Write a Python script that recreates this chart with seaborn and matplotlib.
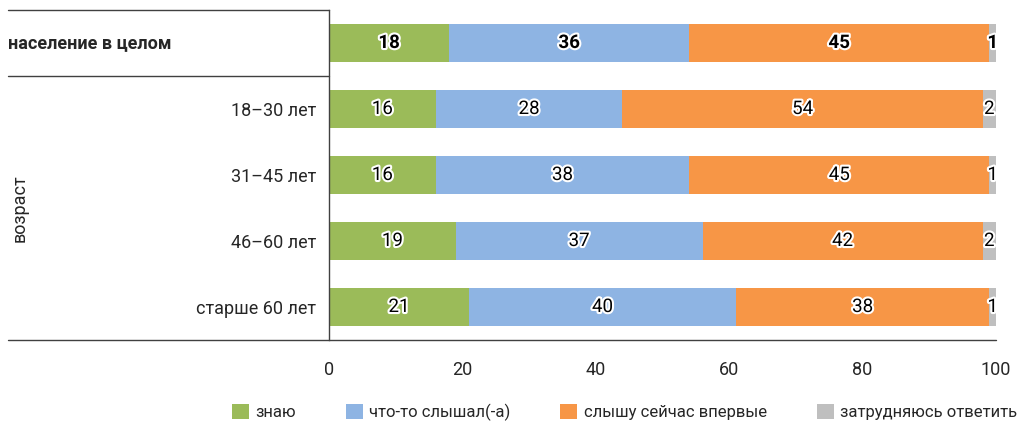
import matplotlib
matplotlib.use("Agg")
import matplotlib.pyplot as plt
import matplotlib.patheffects as pe
from matplotlib.patches import Patch
import seaborn as sns
import pandas as pd
import numpy as np

categories = ["население в целом", "18–30 лет", "31–45 лет", "46–60 лет", "старше 60 лет"]
series_names = ["знаю", "что-то слышал(-а)", "слышу сейчас впервые", "затрудняюсь ответить"]
znayu = [18, 16, 16, 19, 21]
slyshal = [36, 28, 38, 37, 40]
vpervye = [45, 54, 45, 42, 38]
zatrud = [1, 2, 1, 2, 1]
xticks = [0, 20, 40, 60, 80, 100]
group_label = "возраст"

colors = ["#9BBB59", "#8EB4E3", "#F79646", "#BFBFBF"]

sns.set_style("white")
plt.rcParams["font.family"] = ["Roboto", "DejaVu Sans"]

fig = plt.figure(figsize=(10.19, 4.21), dpi=100)
ax = fig.add_axes([329 / 1019, 1 - 340 / 421, 667 / 1019, 330 / 421])

series = [znayu, slyshal, vpervye, zatrud]
cum = np.cumsum(np.array(series), axis=0)

# draw from longest cumulative to shortest so that segments stack visually
for i in range(3, -1, -1):
    df = pd.DataFrame({"cat": categories, "val": cum[i]})
    sns.barplot(data=df, x="val", y="cat", orient="h", color=colors[i],
                saturation=1, width=0.59, ax=ax, linewidth=0, errorbar=None)

ax.set_xlim(0, 100)
ax.set_ylim(4.5, -0.5)
ax.set_xticks(xticks)
ax.set_xticklabels([str(t) for t in xticks], fontsize=13)
ax.set_yticks(range(len(categories)))
ax.set_yticklabels([""] + categories[1:], fontsize=13)
ax.set_xlabel("")
ax.set_ylabel("")
ax.tick_params(axis="y", length=0, pad=9)
ax.tick_params(axis="x", direction="out", length=6, width=1, color="#404040", pad=9)

for s in ["top", "right", "bottom"]:
    ax.spines[s].set_visible(False)
ax.spines["left"].set_color("#404040")
ax.spines["left"].set_linewidth(1)

# value labels
for i, vals in enumerate(series):
    for j, v in enumerate(vals):
        center = cum[i][j] - v / 2
        ax.text(center, j, str(v), ha="center", va="center", fontsize=13.5,
                fontweight="bold" if j == 0 else "normal", color="black",
                path_effects=[pe.withStroke(linewidth=3, foreground="white")])

# left-side decorations
xl = (8 - 329) / 667
line_kw = dict(color="#404040", linewidth=1, clip_on=False,
               transform=ax.get_yaxis_transform())
ax.plot([xl, 0], [-0.5, -0.5], **line_kw)
ax.plot([xl, 0], [0.5, 0.5], **line_kw)
ax.plot([xl, 1], [4.5, 4.5], **line_kw)

ax.text(xl, 0, categories[0], transform=ax.get_yaxis_transform(),
        ha="left", va="center", fontsize=13, fontweight="bold")
ax.text((20 - 329) / 667, 2.5, group_label, transform=ax.get_yaxis_transform(),
        ha="center", va="center", rotation=90, fontsize=13)

# legend
handles = [Patch(facecolor=c, edgecolor="none") for c in colors]
fig.legend(handles, series_names, loc="lower center", bbox_to_anchor=(0.613, -0.035),
           ncol=4, frameon=False, fontsize=12, handlelength=1.0, handleheight=1.0,
           handletextpad=0.4, columnspacing=3.0)

fig.savefig("out.png", dpi=100)
